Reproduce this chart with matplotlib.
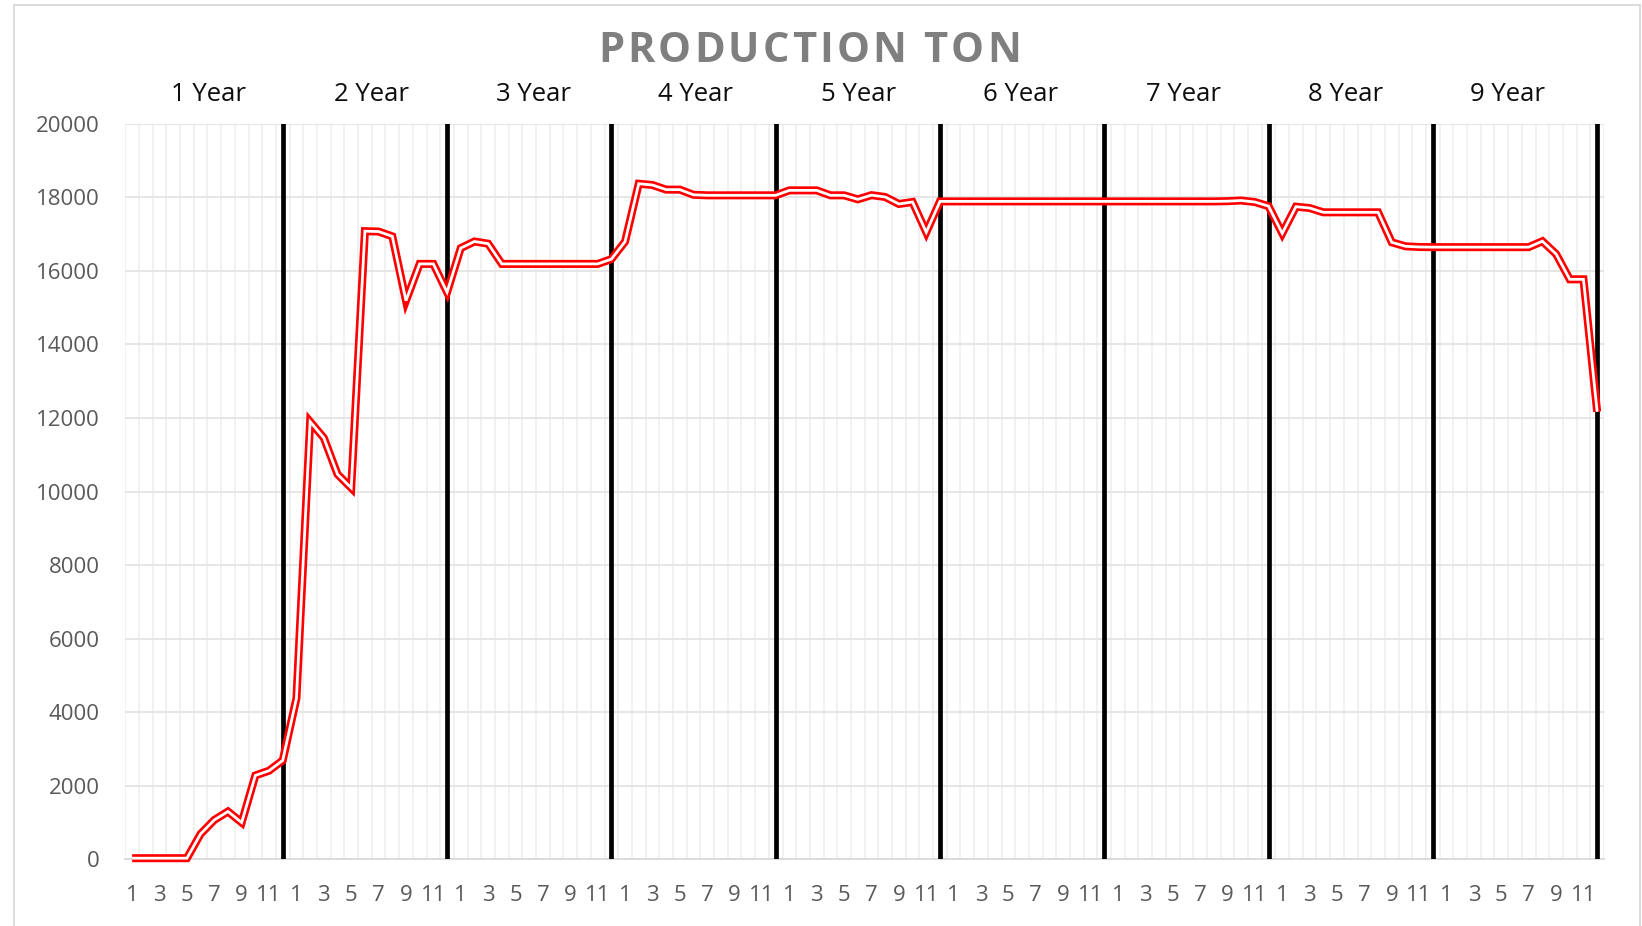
import matplotlib
matplotlib.use("Agg")
import matplotlib.pyplot as plt
from matplotlib.patches import Rectangle
import numpy as np

# ---------------- data ----------------
year_labels = ["1 Year", "2 Year", "3 Year", "4 Year", "5 Year",
               "6 Year", "7 Year", "8 Year", "9 Year"]
month_labels = ["1", "2", "3", "4", "5", "6", "7", "8", "9", "10", "11", "12"]

year1 = [30, 30, 30, 30, 30, 690, 1070, 1300, 1000, 2280, 2410, 2690]
year2 = [4380, 11900, 11460, 10470, 10100, 17080, 17070, 16940, 15190, 16190, 16190, 15420]
year3 = [16620, 16800, 16740, 16190, 16190, 16190, 16190, 16190, 16190, 16190, 16190, 16320]
year4 = [16795, 18370, 18336, 18210, 18210, 18070, 18055, 18055, 18055, 18055, 18055, 18055]
year5 = [18190, 18190, 18190, 18055, 18055, 17946, 18060, 18010, 17820, 17874, 17050, 17890]
year6 = [17890, 17890, 17890, 17890, 17890, 17890, 17890, 17890, 17890, 17890, 17890, 17890]
year7 = [17890, 17890, 17890, 17890, 17890, 17890, 17890, 17890, 17896, 17914, 17873, 17760]
year8 = [17020, 17746, 17710, 17593, 17593, 17593, 17593, 17593, 16777, 16669, 16650, 16646]
year9 = [16646, 16646, 16646, 16646, 16646, 16646, 16646, 16808, 16460, 15771, 15771, 12170]

years = [year1, year2, year3, year4, year5, year6, year7, year8, year9]
production = np.concatenate(years)
n_months = len(month_labels)
x = np.arange(len(production))

y_max = 20000
y_step = 2000

# ---------------- figure ----------------
W, H = 1642, 926
fig = plt.figure(figsize=(W / 100, H / 100), dpi=100)
fig.patch.set_facecolor("white")

# outer chart-area border
fig.add_artist(Rectangle((14 / W, -0.02), (1640 - 14) / W, 1.02 - 5 / H,
                         transform=fig.transFigure, fill=False,
                         ec="#d9d9d9", lw=1.3))

left_px, right_px, top_px, bottom_px = 125.3, 1604.0, 123.8, 859.3
ax = fig.add_axes([left_px / W, 1 - bottom_px / H,
                   (right_px - left_px) / W, (bottom_px - top_px) / H])

ax.set_xlim(-0.5, len(production) - 0.5)
ax.set_ylim(0, y_max)

# gridlines
for b in np.arange(-0.5, len(production) + 0.5, 1.0):
    ax.axvline(b, color="#ededed", lw=1.1, zorder=1)
for yv in range(0, y_max + 1, y_step):
    ax.axhline(yv, color="#e4e4e4", lw=1.3, zorder=1)

for s in ["left", "right", "top"]:
    ax.spines[s].set_visible(False)
ax.spines["bottom"].set_color("#d9d9d9")
ax.spines["bottom"].set_linewidth(1.3)
ax.spines["bottom"].set_zorder(2)

# year separators (black)
for k in range(len(years)):
    ax.axvline((k + 1) * n_months - 1, color="black", lw=3.4, zorder=3)

# double red line
ax.plot(x, production, color="#ff0000", lw=5.8, solid_joinstyle="miter",
        solid_capstyle="butt", zorder=4, clip_on=False)
ax.plot(x, production, color="white", lw=2.0, solid_joinstyle="miter",
        solid_capstyle="butt", zorder=5, clip_on=False)

# ticks
tick_pos = [i for i in x if (i % n_months) % 2 == 0]
ax.set_xticks(tick_pos)
ax.set_xticklabels([month_labels[i % n_months] for i in tick_pos])
ax.set_yticks(range(0, y_max + 1, y_step))
ax.set_yticklabels([str(v) for v in range(0, y_max + 1, y_step)])
ax.tick_params(axis="both", length=0, colors="#595959", labelsize=16)
ax.tick_params(axis="x", pad=18.5)
ax.tick_params(axis="y", pad=18.5)
for lab in ax.get_xticklabels() + ax.get_yticklabels():
    lab.set_family("Open Sans")

# year labels above the plot (slightly tighter spacing than the year blocks)
label_first, label_step = 5.6, 11.86
label_y = (bottom_px - 101) / (bottom_px - top_px)
for k, lab in enumerate(year_labels):
    ax.text(label_first + k * label_step, label_y, lab,
            transform=ax.get_xaxis_transform(), ha="center", va="baseline",
            fontsize=18.5, family="Open Sans", color="#0d0d0d")

# title with letter spacing
title = "PRODUCTION TON"
tkw = dict(fontsize=30, family="Open Sans", fontweight="bold", color="#7f7f7f")
renderer = fig.canvas.get_renderer()

def text_w(s):
    t = fig.text(0, 0, s, **tkw)
    w = t.get_window_extent(renderer).width
    t.remove()
    return w

widths = []
for ch in title:
    if ch == " ":
        widths.append(text_w("N N") - text_w("NN"))
    else:
        widths.append(text_w(ch))
total_w = 423.0
gap = (total_w - sum(widths)) / (len(title) - 1)
cx, base = 809.5, 61.5
xp = cx - total_w / 2
for ch, w in zip(title, widths):
    if ch != " ":
        fig.text(xp / W, 1 - base / H, ch, ha="left", va="baseline", **tkw)
    xp += w + gap

fig.savefig("out.png", dpi=100, facecolor="white")
